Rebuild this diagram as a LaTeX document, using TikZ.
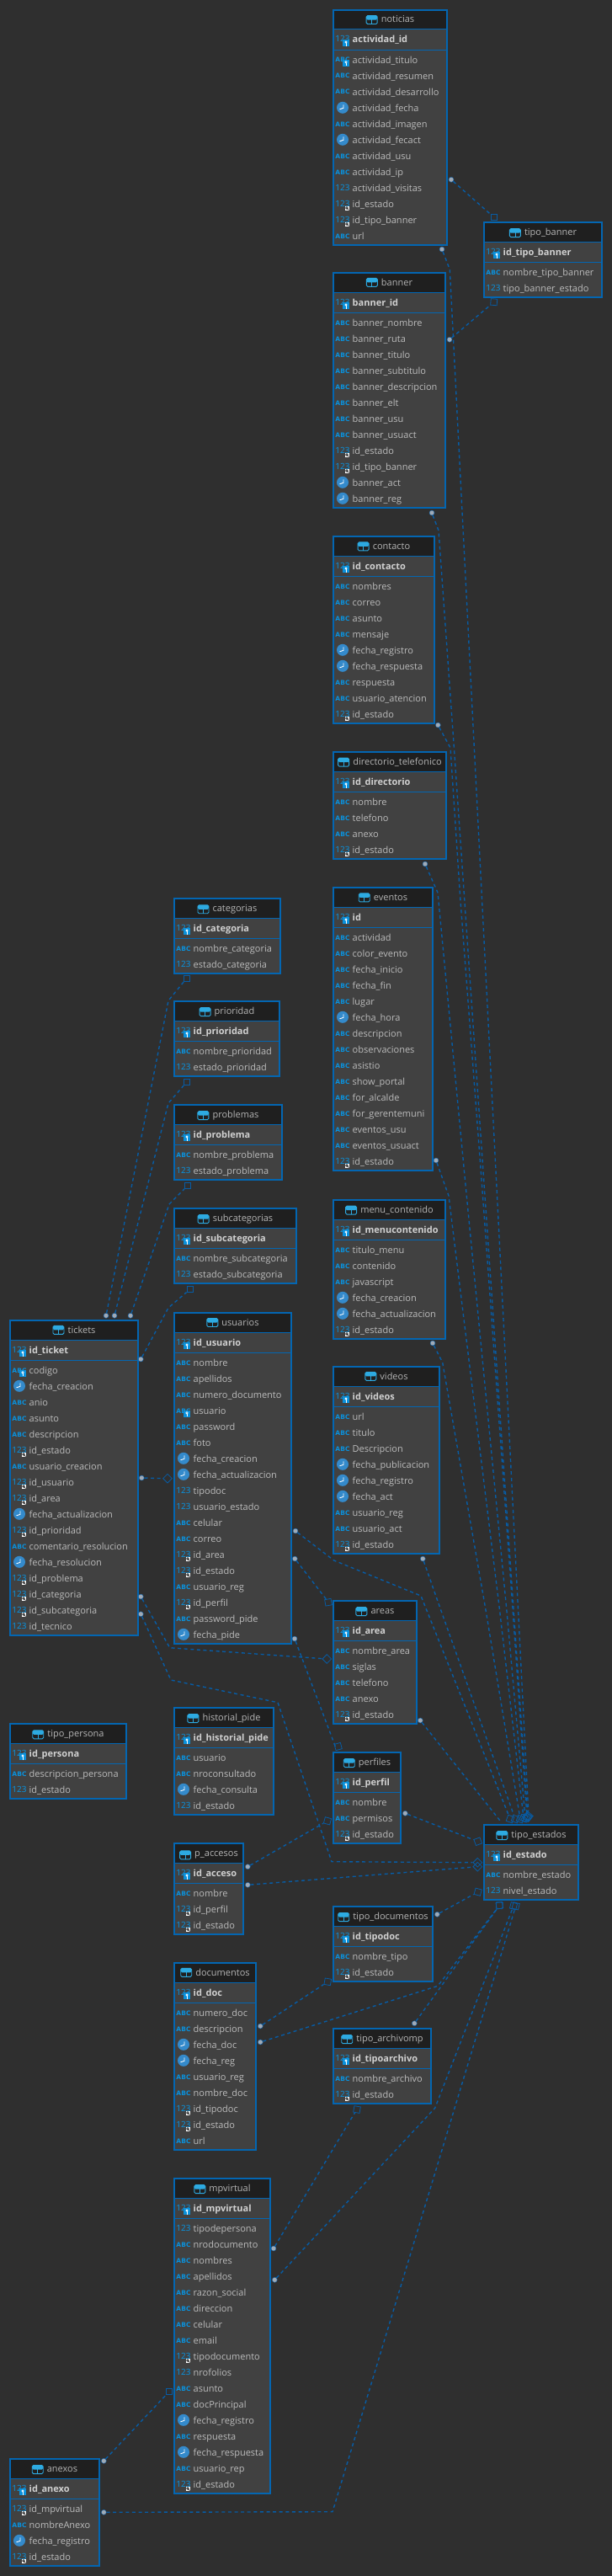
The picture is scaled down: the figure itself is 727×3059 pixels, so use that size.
\documentclass[tikz,border=0pt]{standalone}
\usepackage{fontspec}
\usepackage{tikz}
\usetikzlibrary{positioning}
\setmainfont{Open Sans}
\newfontfamily\abcfont{DejaVu Sans}
\newfontfamily\numfont{Noto Sans}
\catcode`\_=12
\definecolor{pagebg}{RGB}{47,47,47}
\definecolor{rowbg}{RGB}{65,65,65}
\definecolor{titlebg}{RGB}{31,31,31}
\definecolor{tblblue}{RGB}{3,102,178}
\definecolor{iconblue}{RGB}{10,145,220}
\definecolor{lightblue}{RGB}{45,170,225}
\definecolor{clockblue}{RGB}{52,138,203}
\definecolor{relblue}{RGB}{7,92,165}
\definecolor{dotgrey}{RGB}{160,170,182}
\definecolor{rowtext}{RGB}{188,188,188}
\tikzset{
    tablebox/.style={draw=tblblue,line width=2pt,fill=rowbg,anchor=north west,inner sep=0pt,outer sep=0pt},
    titletext/.style={anchor=base,inner sep=0pt,text=rowtext!110,font=\fontsize{11}{13}\selectfont},
    pktext/.style={anchor=base west,inner sep=0pt,text=white!82!black,font=\fontsize{11}{13}\selectfont\bfseries},
    rowtxt/.style={anchor=base west,inner sep=0pt,text=rowtext,font=\fontsize{11}{13}\selectfont},
    abcicon/.style={anchor=base,inner sep=0pt,text=iconblue,font=\abcfont\fontsize{7.5}{8}\selectfont\bfseries},
    numicon/.style={anchor=base,inner sep=0pt,text=iconblue,font=\numfont\fontsize{10}{12}\selectfont},
    tableicon/.style={draw=lightblue,line width=.9pt,rounded corners=1.5pt,minimum width=13pt,minimum height=10pt,inner sep=0pt,
        path picture={
            \fill[lightblue] (path picture bounding box.north west) rectangle (path picture bounding box.east);
            \draw[lightblue,line width=.7pt] (path picture bounding box.north) -- (path picture bounding box.south);
        }},
    keybox/.style={fill=iconblue,minimum size=8pt,inner sep=0pt,
        path picture={
            \draw[white,line width=.7pt] (path picture bounding box.center)++(0,-1) circle (1.2pt);
            \draw[white,line width=.7pt] (path picture bounding box.center)++(0,.3) -- ++(0,2.6) -- ++(1,0);
        }},
    fkbox/.style={fill=white,minimum size=5pt,inner sep=0pt,
        path picture={
            \draw[titlebg,line width=.7pt] (path picture bounding box.center) circle (1.3pt);
            \draw[titlebg,line width=.7pt] (path picture bounding box.center) -- (path picture bounding box.south east);
        }},
    clockicon/.style={circle,fill=clockblue,minimum size=14pt,inner sep=0pt,
        path picture={
            \draw[white,line width=.9pt] (path picture bounding box.center)++(1,-3.5) -- ++(0,4) -- ++(-4.5,1.5);
        }},
    fkdot/.style={circle,fill=dotgrey,draw=relblue,line width=.4pt,minimum size=6pt,inner sep=0pt},
    pksq/.style={draw=relblue,line width=.8pt,minimum size=7.5pt,inner sep=0pt},
    relline/.style={draw=relblue,line width=1.4pt,dash pattern=on 4pt off 3.6pt}
}
\newcommand{\erdiconn}[3]{\node[numicon] (#1-i#2) at (#3) {123};}
\newcommand{\erdicona}[3]{\node[abcicon] (#1-i#2) at (#3) {ABC};}
\newcommand{\erdiconk}[3]{\node[abcicon] (#1-i#2) at (#3) {ABC};
    \node[keybox] (#1-m#2) at ([shift={(4,.8)}]#3) {};}
\newcommand{\erdiconf}[3]{\node[numicon] (#1-i#2) at (#3) {123};
    \node[fkbox] (#1-m#2) at ([shift={(5,2)}]#3) {};}
\newcommand{\erdiconc}[3]{\node[clockicon] (#1-i#2) at ([shift={(0,-3.2)}]#3) {};}
\newcommand{\erdtable}[8]{
    \pgfmathsetmacro{\tabB}{#3+53+19*#5}
    \pgfmathsetmacro{\tabW}{#4-#2}
    \pgfmathsetmacro{\tabMid}{(#2+#4)/2+9}
    \node[tablebox,minimum width=\tabW pt-2pt,minimum height=\tabB pt-#3 pt-2pt] (#1) at (#2+1,#3+1) {};
    \fill[titlebg] (#2+1,#3+1) rectangle (#4-1,#3+24);
    \draw[tblblue,line width=1pt] (#2,#3+24) -- (#4,#3+24);
    \draw[tblblue,line width=.7pt] (#2,#3+48) -- (#4,#3+48);
    \node[tablebox,fill=none,draw=tblblue,minimum width=\tabW pt-2pt,minimum height=\tabB pt-#3 pt-2pt] (#1-frame) at (#2+1,#3+1) {};
    \node[titletext] (#1-title) at (\tabMid,#3+16) {#6};
    \node[tableicon,left=4pt of #1-title.west,yshift=-.5pt] (#1-icon) {};
    \node[numicon] (#1-pki) at (#2+12,#3+39) {123};
    \node[keybox] (#1-pkm) at (#2+16,#3+40) {};
    \node[pktext] (#1-pk) at (#2+23.5,#3+40) {#7};
    \foreach \ftype/\fname [count=\i] in {#8}{
        \pgfmathsetmacro{\rowy}{#3+60+19*(\i-1)}
        \csname erdicon\ftype\endcsname{#1}{\i}{#2+12,\rowy+3}
        \node[rowtxt] (#1-\i) at (#2+23.5,\rowy+4.3) {\fname};
    }
}
\newcommand{\erdrel}[5]{
    \node[fkdot] (#1-a) at (#2) {};
    \node[pksq,rotate=#5] (#1-b) at (#4) {};
    \draw[relline] (#1-a) #3 -- (#1-b);
}
\begin{document}
\begin{tikzpicture}[x=1pt,y=-1pt]
    \fill[pagebg] (0,0) rectangle (727,3059);
    \useasboundingbox (0,0) rectangle (727,3059);

    \erdtable{noticias}{395}{11}{532}{12}{noticias}{actividad_id}{k/actividad_titulo,a/actividad_resumen,a/actividad_desarrollo,c/actividad_fecha,a/actividad_imagen,c/actividad_fecact,a/actividad_usu,a/actividad_ip,n/actividad_visitas,f/id_estado,f/id_tipo_banner,a/url}
    \erdtable{banner}{395}{323}{530}{12}{banner}{banner_id}{a/banner_nombre,a/banner_ruta,a/banner_titulo,a/banner_subtitulo,a/banner_descripcion,a/banner_elt,a/banner_usu,a/banner_usuact,f/id_estado,f/id_tipo_banner,c/banner_act,c/banner_reg}
    \erdtable{tipobanner}{574}{263}{716}{2}{tipo_banner}{id_tipo_banner}{a/nombre_tipo_banner,n/tipo_banner_estado}
    \erdtable{contacto}{395}{636}{517}{9}{contacto}{id_contacto}{a/nombres,a/correo,a/asunto,a/mensaje,c/fecha_registro,c/fecha_respuesta,a/respuesta,a/usuario_atencion,f/id_estado}
    \erdtable{directorio}{395}{892}{531}{4}{directorio_telefonico}{id_directorio}{a/nombre,a/telefono,a/anexo,f/id_estado}
    \erdtable{eventos}{395}{1053}{515}{15}{eventos}{id}{a/actividad,a/color_evento,a/fecha_inicio,a/fecha_fin,a/lugar,c/fecha_hora,a/descripcion,a/observaciones,a/asistio,a/show_portal,a/for_alcalde,a/for_gerentemuni,a/eventos_usu,a/eventos_usuact,f/id_estado}
    \erdtable{menucontenido}{395}{1424}{530}{6}{menu_contenido}{id_menucontenido}{a/titulo_menu,a/contenido,a/javascript,c/fecha_creacion,c/fecha_actualizacion,f/id_estado}
    \erdtable{videos}{395}{1622}{523}{9}{videos}{id_videos}{a/url,a/titulo,a/Descripcion,c/fecha_publicacion,c/fecha_registro,c/fecha_act,a/usuario_reg,a/usuario_act,f/id_estado}
    \erdtable{areas}{395}{1900}{496}{5}{areas}{id_area}{a/nombre_area,a/siglas,a/telefono,a/anexo,f/id_estado}
    \erdtable{perfiles}{395}{2080}{477}{3}{perfiles}{id_perfil}{a/nombre,a/permisos,f/id_estado}
    \erdtable{tipoestados}{574}{2166}{688}{2}{tipo_estados}{id_estado}{a/nombre_estado,n/nivel_estado}
    \erdtable{tipodocumentos}{395}{2263}{515}{2}{tipo_documentos}{id_tipodoc}{a/nombre_tipo,f/id_estado}
    \erdtable{tipoarchivo}{395}{2408}{513}{2}{tipo_archivomp}{id_tipoarchivo}{a/nombre_archivo,f/id_estado}
    \erdtable{categorias}{206}{1066}{334}{2}{categorias}{id_categoria}{a/nombre_categoria,n/estado_categoria}
    \erdtable{prioridad}{206}{1188}{333}{2}{prioridad}{id_prioridad}{a/nombre_prioridad,n/estado_prioridad}
    \erdtable{problemas}{206}{1311}{336}{2}{problemas}{id_problema}{a/nombre_problema,n/estado_problema}
    \erdtable{subcategorias}{206}{1434}{353}{2}{subcategorias}{id_subcategoria}{a/nombre_subcategoria,n/estado_subcategoria}
    \erdtable{usuarios}{206}{1558}{347}{18}{usuarios}{id_usuario}{a/nombre,a/apellidos,a/numero_documento,k/usuario,a/password,a/foto,c/fecha_creacion,c/fecha_actualizacion,n/tipodoc,n/usuario_estado,a/celular,a/correo,f/id_area,f/id_estado,a/usuario_reg,f/id_perfil,a/password_pide,c/fecha_pide}
    \erdtable{tickets}{11}{1567}{165}{17}{tickets}{id_ticket}{k/codigo,c/fecha_creacion,a/anio,a/asunto,a/descripcion,f/id_estado,a/usuario_creacion,f/id_usuario,f/id_area,c/fecha_actualizacion,f/id_prioridad,a/comentario_resolucion,c/fecha_resolucion,f/id_problema,f/id_categoria,f/id_subcategoria,n/id_tecnico}
    \erdtable{tipopersona}{11}{2046}{151}{2}{tipo_persona}{id_persona}{a/descripcion_persona,n/id_estado}
    \erdtable{historial}{206}{2027}{326}{4}{historial_pide}{id_historial_pide}{a/usuario,a/nroconsultado,c/fecha_consulta,n/id_estado}
    \erdtable{paccesos}{206}{2188}{290}{3}{p_accesos}{id_acceso}{a/nombre,f/id_perfil,f/id_estado}
    \erdtable{documentos}{206}{2330}{305}{9}{documentos}{id_doc}{a/numero_doc,a/descripcion,c/fecha_doc,c/fecha_reg,a/usuario_reg,a/nombre_doc,f/id_tipodoc,f/id_estado,a/url}
    \erdtable{mpvirtual}{206}{2586}{322}{17}{mpvirtual}{id_mpvirtual}{n/tipodepersona,a/nrodocumento,a/nombres,a/apellidos,a/razon_social,a/direccion,a/celular,a/email,f/tipodocumento,n/nrofolios,a/asunto,a/docPrincipal,c/fecha_registro,a/respuesta,c/fecha_respuesta,a/usuario_rep,f/id_estado}
    \erdtable{anexos}{11}{2919}{119}{4}{anexos}{id_anexo}{f/id_mpvirtual,a/nombreAnexo,c/fecha_registro,f/id_estado}

    \erdrel{notban}{536,213.3}{}{586.7,258}{0}
    \erdrel{banban}{534,403.3}{}{586.7,358.7}{-5}
    \erdrel{notest}{525,296}{-- (534.3,320) -- (590,1410)}{628,2157}{-40}
    \erdrel{banest}{513,609}{-- (521,630) -- (539.3,887) -- (575.3,1410) -- (610,1910)}{627,2158}{-35}
    \erdrel{conest}{520.3,861}{-- (535,888) -- (546.7,1066) -- (572.7,1410) -- (609,1910)}{626,2158}{-30}
    \erdrel{direst}{505,1026}{-- (520,1060) -- (553.3,1410) -- (601.7,1910)}{624,2159}{-25}
    \erdrel{eveest}{518,1378}{-- (533,1420) -- (593.3,1910)}{622,2159}{-20}
    \erdrel{menest}{514,1595}{-- (525.7,1618) -- (576.7,1910)}{618,2160}{-20}
    \erdrel{videst}{502.3,1851}{-- (523,1910)}{612,2160}{-20}
    \erdrel{usuest}{351,1818}{-- (396.7,1853) -- (500,1895)}{606,2160}{-20}
    \node[fkdot] (areest-a) at (499.3,2043) {};
    \coordinate (areest-b) at (594,2162);
    \draw[relline] (areest-a) -- (areest-b);
    \erdrel{perest}{481.3,2153.3}{}{567.7,2186.7}{20}
    \erdrel{tdoest}{519.3,2273.3}{}{567.7,2246.7}{-15}
    \erdrel{accper}{294.3,2216.7}{}{389,2162.3}{-15}
    \erdrel{accest}{294.3,2238.3}{}{567.3,2216.7}{45}
    \erdrel{ticest}{167.3,1916.7}{-- (203,1995) -- (330,2021.7) -- (394,2210.7)}{567.3,2211.7}{45}
    \erdrel{ticare}{167.3,1896}{-- (201.7,1956.7)}{388.3,1970}{45}
    \erdrel{ticusu}{168.3,1755}{}{199,1755.7}{45}
    \erdrel{ticsub}{167.3,1614}{-- (200,1553)}{225.7,1531}{0}
    \erdrel{ticcat}{126,1562.3}{-- (200,1188.3)}{221.7,1161.7}{0}
    \erdrel{ticpri}{136,1562.3}{-- (200,1310)}{221.7,1285}{0}
    \erdrel{ticpro}{155,1562.3}{-- (201,1430)}{223,1407.7}{0}
    \erdrel{usuper}{350,1946}{-- (398,2073)}{401.7,2074}{15}
    \erdrel{usuare}{350.3,1851}{-- (386.7,1898)}{390,1902.7}{10}
    \erdrel{doctip}{309.3,2406}{}{389.3,2353.3}{-10}
    \erdrel{docest}{309.3,2425}{-- (520,2358.3)}{593.3,2262.7}{10}
    \erdrel{arcest}{492.3,2402.7}{}{593.3,2262.7}{-5}
    \erdrel{mpvarc}{325,2670}{-- (416.7,2516.7)}{424,2505}{-10}
    \erdrel{mpvest}{326.3,2707.3}{-- (516.7,2503.3) -- (578.3,2345)}{610,2263.3}{-15}
    \erdrel{anempv}{123.3,2922.3}{}{201,2840}{0}
    \erdrel{aneest}{123.3,2983.3}{-- (395,2982.7)}{612.7,2263.3}{-15}
\end{tikzpicture}
\end{document}
